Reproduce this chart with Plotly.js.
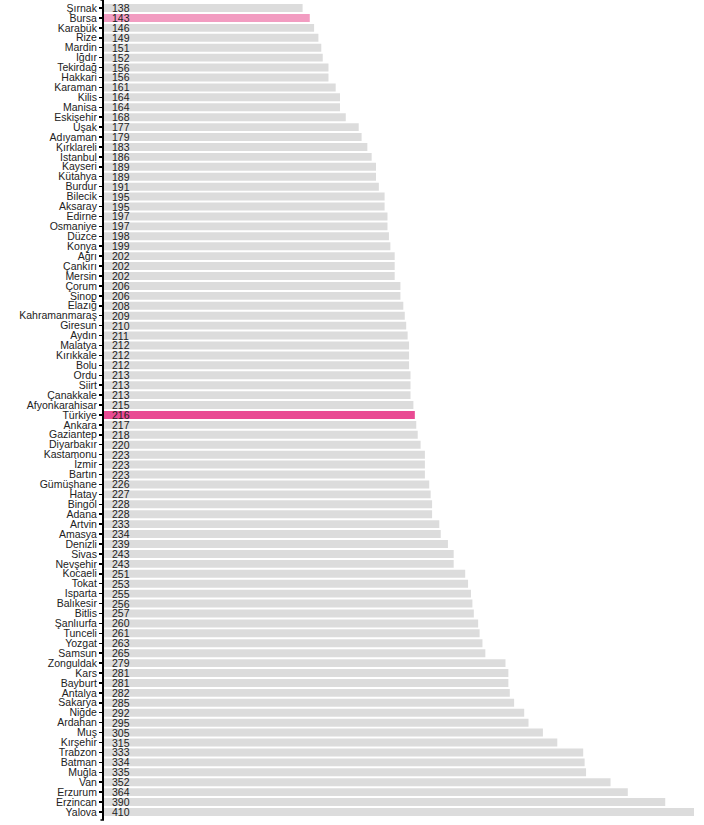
<!DOCTYPE html>
<html>
<head>
<meta charset="utf-8">
<script src="https://cdn.plot.ly/plotly-3.0.1.min.js"></script>
<style>html,body{margin:0;padding:0;background:#fff;}#chart{width:704px;height:825px;}</style>
</head>
<body>
<div id="chart"></div>
<script>
const provinces = ["Şırnak","Bursa","Karabük","Rize","Mardin","Iğdır","Tekirdağ","Hakkari","Karaman","Kilis","Manisa","Eskişehir","Uşak","Adıyaman","Kırklareli","İstanbul","Kayseri","Kütahya","Burdur","Bilecik","Aksaray","Edirne","Osmaniye","Düzce","Konya","Ağrı","Çankırı","Mersin","Çorum","Sinop","Elazığ","Kahramanmaraş","Giresun","Aydın","Malatya","Kırıkkale","Bolu","Ordu","Siirt","Çanakkale","Afyonkarahisar","Türkiye","Ankara","Gaziantep","Diyarbakır","Kastamonu","İzmir","Bartın","Gümüşhane","Hatay","Bingöl","Adana","Artvin","Amasya","Denizli","Sivas","Nevşehir","Kocaeli","Tokat","Isparta","Balıkesir","Bitlis","Şanlıurfa","Tunceli","Yozgat","Samsun","Zonguldak","Kars","Bayburt","Antalya","Sakarya","Niğde","Ardahan","Muş","Kırşehir","Trabzon","Batman","Muğla","Van","Erzurum","Erzincan","Yalova"];
const values = [138,143,146,149,151,152,156,156,161,164,164,168,177,179,183,186,189,189,191,195,195,197,197,198,199,202,202,202,206,206,208,209,210,211,212,212,212,213,213,213,215,216,217,218,220,223,223,223,226,227,228,228,233,234,239,243,243,251,253,255,256,257,260,261,263,265,279,281,281,282,285,292,295,305,315,333,334,335,352,364,390,410];
const highlightCountry = "Türkiye";
const highlightProvince = "Bursa";

const colors = provinces.map(p => p === highlightCountry ? "#e94b93" : (p === highlightProvince ? "#f29cc1" : "#dcdcdc"));
const FONT = "Liberation Sans, Arial, sans-serif";

const trace = {
  type: "bar",
  orientation: "h",
  y: provinces,
  x: values,
  marker: {color: colors, line: {width: 0}},
  hoverinfo: "skip"
};

const annotations = provinces.map((p, i) => ({
  x: 0, y: p, xref: "x", yref: "y",
  text: String(values[i]),
  showarrow: false, xanchor: "left", xshift: 6, yshift: 0,
  font: {family: FONT, size: 10.5, color: "#222"}
}));

const layout = {
  width: 704, height: 825,
  margin: {l: 104, r: 10, t: 0, b: 5},
  paper_bgcolor: "#fff", plot_bgcolor: "#fff",
  bargap: 0.2,
  showlegend: false,
  font: {family: FONT, size: 10.5, color: "#222"},
  xaxis: {range: [0, 410], visible: false, fixedrange: true},
  yaxis: {
    type: "category", autorange: "reversed",
    tickmode: "array", tickvals: provinces, ticktext: provinces,
    showline: true, linecolor: "#000", linewidth: 2,
    ticks: "outside", ticklen: 3, tickwidth: 1.5, tickcolor: "#000",
    showgrid: false, zeroline: false,
    tickfont: {family: FONT, size: 10.5, color: "#222"}
  },
  annotations: annotations,
  shapes: [
    {type: "line", xref: "paper", yref: "paper", x0: -0.006, x1: 0, y0: 1, y1: 1, line: {color: "#000", width: 1.5}},
    {type: "line", xref: "paper", yref: "paper", x0: -0.006, x1: 0, y0: 0, y1: 0, line: {color: "#000", width: 1.5}}
  ]
};

Plotly.newPlot("chart", [trace], layout, {displayModeBar: false, staticPlot: true});
</script>
</body>
</html>
